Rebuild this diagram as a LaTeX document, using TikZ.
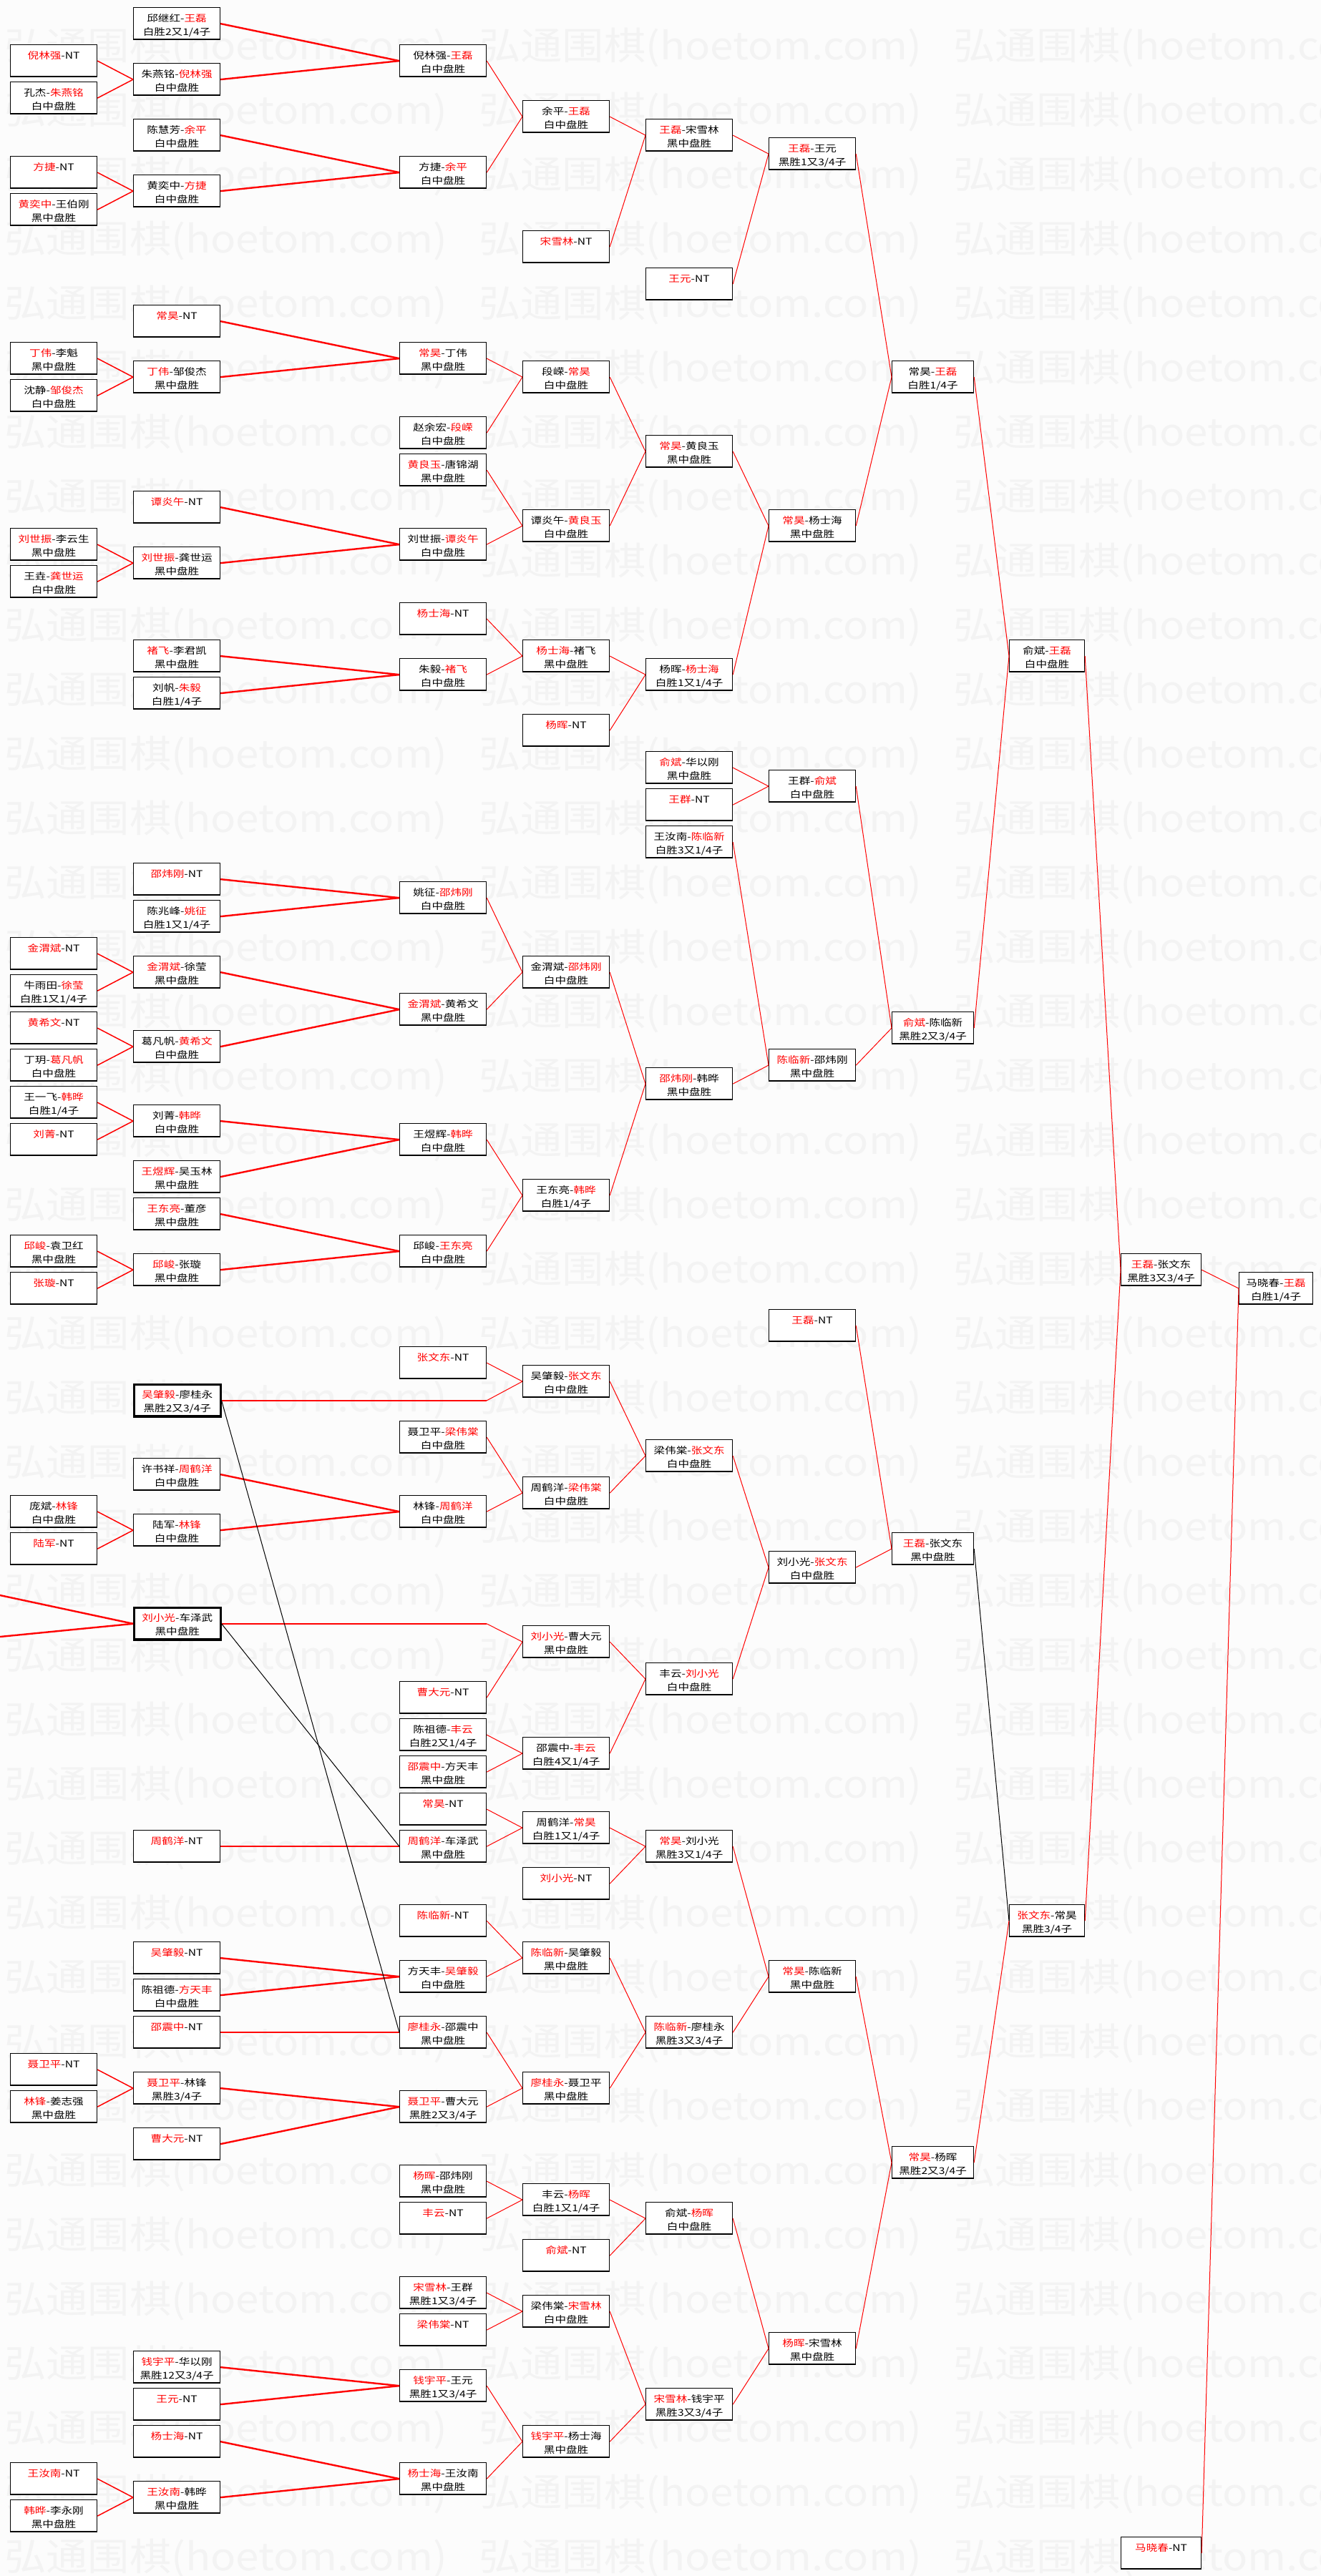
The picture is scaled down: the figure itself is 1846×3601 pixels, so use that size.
\documentclass[tikz,border=0pt]{standalone}
\usepackage{fontspec}
\newfontfamily\cjk[FakeStretch=1.2]{Noto Sans CJK SC}
\newfontfamily\stampfont[FakeStretch=1.1]{Noto Sans CJK SC}
\definecolor{paper}{RGB}{252,252,252}
\definecolor{stampgray}{RGB}{243,243,243}
\newcommand\winner[1]{\textcolor{red}{#1}}
\newcommand\res[3][121pt]{\parbox[b][45pt][t]{#1}{\centering\rule{0pt}{19.5pt}#2\par #3}}

\tikzset{
  game/.style={draw, line width=1.2pt, fill=white, inner sep=0pt, anchor=north west,
    font=\cjk\fontsize{13pt}{19pt}\selectfont,
    path picture={\draw[line width=4pt] (path picture bounding box.south west) -- (path picture bounding box.south east);}},
  boldgame/.style={game, line width=2.6pt},
  stamp/.style={anchor=west, inner sep=0pt, text=stampgray, font=\stampfont\fontsize{53pt}{53pt}\selectfont},
  feedline/.style={red, line width=1.5pt},
  mainline/.style={red, line width=2.4pt},
  roundline/.style={red, line width=1pt},
  crossline/.style={black, line width=1pt}
}

\begin{document}
\begin{tikzpicture}[x=1pt,y=-1pt]
\useasboundingbox (0,0) rectangle (1846,3601);
\clip (0,0) rectangle (1846,3601);
\fill[paper] (0,0) rectangle (1846,3601);

% watermark
\foreach \r in {0,...,39}
  \foreach \c in {0,1,2}
    \node[stamp] (wm-\r-\c) at (6+663*\c, 66+90*\r) {弘通围棋(hoetom.com)};

% column A
\node[game] (a2) at (14,62) {\res{\winner{倪林强}-NT}{}};
\node[game] (a4) at (14,114) {\res{孔杰-\winner{朱燕铭}}{白中盘胜}};
\node[game] (a8) at (14,218) {\res{\winner{方捷}-NT}{}};
\node[game] (a10) at (14,270) {\res{\winner{黄奕中}-王伯刚}{黑中盘胜}};
\node[game] (a18) at (14,478) {\res{\winner{丁伟}-李魁}{黑中盘胜}};
\node[game] (a20) at (14,530) {\res{沈静-\winner{邹俊杰}}{白中盘胜}};
\node[game] (a28) at (14,738) {\res{\winner{刘世振}-李云生}{黑中盘胜}};
\node[game] (a30) at (14,790) {\res{王垚-\winner{龚世运}}{白中盘胜}};
\node[game] (a50) at (14,1310) {\res{\winner{金渭斌}-NT}{}};
\node[game] (a52) at (14,1362) {\res{牛雨田-\winner{徐莹}}{白胜1又1/4子}};
\node[game] (a54) at (14,1414) {\res{\winner{黄希文}-NT}{}};
\node[game] (a56) at (14,1466) {\res{丁玥-\winner{葛凡帆}}{白中盘胜}};
\node[game] (a58) at (14,1518) {\res{王一飞-\winner{韩晔}}{白胜1/4子}};
\node[game] (a60) at (14,1570) {\res{\winner{刘菁}-NT}{}};
\node[game] (a66) at (14,1726) {\res{\winner{邱峻}-袁卫红}{黑中盘胜}};
\node[game] (a68) at (14,1778) {\res{\winner{张璇}-NT}{}};
\node[game] (a80) at (14,2090) {\res{庞斌-\winner{林锋}}{白中盘胜}};
\node[game] (a82) at (14,2142) {\res{\winner{陆军}-NT}{}};
\node[game] (a110) at (14,2870) {\res{\winner{聂卫平}-NT}{}};
\node[game] (a112) at (14,2922) {\res{\winner{林锋}-姜志强}{黑中盘胜}};
\node[game] (a132) at (14,3442) {\res{\winner{王汝南}-NT}{}};
\node[game] (a134) at (14,3494) {\res{\winner{韩晔}-李永刚}{黑中盘胜}};

% column B
\node[game] (b0) at (186,10) {\res{邱继红-\winner{王磊}}{白胜2又1/4子}};
\node[game] (b3) at (186,88) {\res{朱燕铭-\winner{倪林强}}{白中盘胜}};
\node[game] (b6) at (186,166) {\res{陈慧芳-\winner{余平}}{白中盘胜}};
\node[game] (b9) at (186,244) {\res{黄奕中-\winner{方捷}}{白中盘胜}};
\node[game] (b16) at (186,426) {\res{\winner{常昊}-NT}{}};
\node[game] (b19) at (186,504) {\res{\winner{丁伟}-邹俊杰}{黑中盘胜}};
\node[game] (b26) at (186,686) {\res{\winner{谭炎午}-NT}{}};
\node[game] (b29) at (186,764) {\res{\winner{刘世振}-龚世运}{黑中盘胜}};
\node[game] (b34) at (186,894) {\res{\winner{褚飞}-李君凯}{黑中盘胜}};
\node[game] (b36) at (186,946) {\res{刘帆-\winner{朱毅}}{白胜1/4子}};
\node[game] (b46) at (186,1206) {\res{\winner{邵炜刚}-NT}{}};
\node[game] (b48) at (186,1258) {\res{陈兆峰-\winner{姚征}}{白胜1又1/4子}};
\node[game] (b51) at (186,1336) {\res{\winner{金渭斌}-徐莹}{黑中盘胜}};
\node[game] (b55) at (186,1440) {\res{葛凡帆-\winner{黄希文}}{白中盘胜}};
\node[game] (b59) at (186,1544) {\res{刘菁-\winner{韩晔}}{白中盘胜}};
\node[game] (b62) at (186,1622) {\res{\winner{王煜辉}-吴玉林}{黑中盘胜}};
\node[game] (b64) at (186,1674) {\res{\winner{王东亮}-董彦}{黑中盘胜}};
\node[game] (b67) at (186,1752) {\res{\winner{邱峻}-张璇}{黑中盘胜}};
\node[boldgame] (b74) at (186,1934) {\res{\winner{吴肇毅}-廖桂永}{黑胜2又3/4子}};
\node[game] (b78) at (186,2038) {\res{许书祥-\winner{周鹤洋}}{白中盘胜}};
\node[game] (b81) at (186,2116) {\res{陆军-\winner{林锋}}{白中盘胜}};
\node[boldgame] (b86) at (186,2246) {\res{\winner{刘小光}-车泽武}{黑中盘胜}};
\node[game] (b98) at (186,2558) {\res{\winner{周鹤洋}-NT}{}};
\node[game] (b104) at (186,2714) {\res{\winner{吴肇毅}-NT}{}};
\node[game] (b106) at (186,2766) {\res{陈祖德-\winner{方天丰}}{白中盘胜}};
\node[game] (b108) at (186,2818) {\res{\winner{邵震中}-NT}{}};
\node[game] (b111) at (186,2896) {\res{\winner{聂卫平}-林锋}{黑胜3/4子}};
\node[game] (b114) at (186,2974) {\res{\winner{曹大元}-NT}{}};
\node[game] (b126) at (186,3286) {\res{\winner{钱宇平}-华以刚}{黑胜12又3/4子}};
\node[game] (b128) at (186,3338) {\res{\winner{王元}-NT}{}};
\node[game] (b130) at (186,3390) {\res{\winner{杨士海}-NT}{}};
\node[game] (b133) at (186,3468) {\res{\winner{王汝南}-韩晔}{黑中盘胜}};

% column C
\node[game] (c2) at (558,62) {\res{倪林强-\winner{王磊}}{白中盘胜}};
\node[game] (c8) at (558,218) {\res{方捷-\winner{余平}}{白中盘胜}};
\node[game] (c18) at (558,478) {\res{\winner{常昊}-丁伟}{黑中盘胜}};
\node[game] (c22) at (558,582) {\res{赵余宏-\winner{段嵘}}{白中盘胜}};
\node[game] (c24) at (558,634) {\res{\winner{黄良玉}-唐锦湖}{黑中盘胜}};
\node[game] (c28) at (558,738) {\res{刘世振-\winner{谭炎午}}{白中盘胜}};
\node[game] (c32) at (558,842) {\res{\winner{杨士海}-NT}{}};
\node[game] (c35) at (558,920) {\res{朱毅-\winner{褚飞}}{白中盘胜}};
\node[game] (c47) at (558,1232) {\res{姚征-\winner{邵炜刚}}{白中盘胜}};
\node[game] (c53) at (558,1388) {\res{\winner{金渭斌}-黄希文}{黑中盘胜}};
\node[game] (c60) at (558,1570) {\res{王煜辉-\winner{韩晔}}{白中盘胜}};
\node[game] (c66) at (558,1726) {\res{邱峻-\winner{王东亮}}{白中盘胜}};
\node[game] (c72) at (558,1882) {\res{\winner{张文东}-NT}{}};
\node[game] (c76) at (558,1986) {\res{聂卫平-\winner{梁伟棠}}{白中盘胜}};
\node[game] (c80) at (558,2090) {\res{林锋-\winner{周鹤洋}}{白中盘胜}};
\node[game] (c90) at (558,2350) {\res{\winner{曹大元}-NT}{}};
\node[game] (c92) at (558,2402) {\res{陈祖德-\winner{丰云}}{白胜2又1/4子}};
\node[game] (c94) at (558,2454) {\res{\winner{邵震中}-方天丰}{黑中盘胜}};
\node[game] (c96) at (558,2506) {\res{\winner{常昊}-NT}{}};
\node[game] (c98) at (558,2558) {\res{\winner{周鹤洋}-车泽武}{黑中盘胜}};
\node[game] (c102) at (558,2662) {\res{\winner{陈临新}-NT}{}};
\node[game] (c105) at (558,2740) {\res{方天丰-\winner{吴肇毅}}{白中盘胜}};
\node[game] (c108) at (558,2818) {\res{\winner{廖桂永}-邵震中}{黑中盘胜}};
\node[game] (c112) at (558,2922) {\res{\winner{聂卫平}-曹大元}{黑胜2又3/4子}};
\node[game] (c116) at (558,3026) {\res{\winner{杨晖}-邵炜刚}{黑中盘胜}};
\node[game] (c118) at (558,3078) {\res{\winner{丰云}-NT}{}};
\node[game] (c122) at (558,3182) {\res{\winner{宋雪林}-王群}{黑胜1又3/4子}};
\node[game] (c124) at (558,3234) {\res{\winner{梁伟棠}-NT}{}};
\node[game] (c127) at (558,3312) {\res{\winner{钱宇平}-王元}{黑胜1又3/4子}};
\node[game] (c132) at (558,3442) {\res{\winner{杨士海}-王汝南}{黑中盘胜}};

% column D
\node[game] (d5) at (730,140) {\res{余平-\winner{王磊}}{白中盘胜}};
\node[game] (d12) at (730,322) {\res{\winner{宋雪林}-NT}{}};
\node[game] (d19) at (730,504) {\res{段嵘-\winner{常昊}}{白中盘胜}};
\node[game] (d27) at (730,712) {\res{谭炎午-\winner{黄良玉}}{白中盘胜}};
\node[game] (d34) at (730,894) {\res{\winner{杨士海}-褚飞}{黑中盘胜}};
\node[game] (d38) at (730,998) {\res{\winner{杨晖}-NT}{}};
\node[game] (d51) at (730,1336) {\res{金渭斌-\winner{邵炜刚}}{白中盘胜}};
\node[game] (d63) at (730,1648) {\res{王东亮-\winner{韩晔}}{白胜1/4子}};
\node[game] (d73) at (730,1908) {\res{吴肇毅-\winner{张文东}}{白中盘胜}};
\node[game] (d79) at (730,2064) {\res{周鹤洋-\winner{梁伟棠}}{白中盘胜}};
\node[game] (d87) at (730,2272) {\res{\winner{刘小光}-曹大元}{黑中盘胜}};
\node[game] (d93) at (730,2428) {\res{邵震中-\winner{丰云}}{白胜4又1/4子}};
\node[game] (d97) at (730,2532) {\res{周鹤洋-\winner{常昊}}{白胜1又1/4子}};
\node[game] (d100) at (730,2610) {\res{\winner{刘小光}-NT}{}};
\node[game] (d104) at (730,2714) {\res{\winner{陈临新}-吴肇毅}{黑中盘胜}};
\node[game] (d111) at (730,2896) {\res{\winner{廖桂永}-聂卫平}{黑中盘胜}};
\node[game] (d117) at (730,3052) {\res{丰云-\winner{杨晖}}{白胜1又1/4子}};
\node[game] (d120) at (730,3130) {\res{\winner{俞斌}-NT}{}};
\node[game] (d123) at (730,3208) {\res{梁伟棠-\winner{宋雪林}}{白中盘胜}};
\node[game] (d130) at (730,3390) {\res{\winner{钱宇平}-杨士海}{黑中盘胜}};

% column E
\node[game] (e6) at (902,166) {\res{\winner{王磊}-宋雪林}{黑中盘胜}};
\node[game] (e14) at (902,374) {\res{\winner{王元}-NT}{}};
\node[game] (e23) at (902,608) {\res{\winner{常昊}-黄良玉}{黑中盘胜}};
\node[game] (e35) at (902,920) {\res{杨晖-\winner{杨士海}}{白胜1又1/4子}};
\node[game] (e40) at (902,1050) {\res{\winner{俞斌}-华以刚}{黑中盘胜}};
\node[game] (e42) at (902,1102) {\res{\winner{王群}-NT}{}};
\node[game] (e44) at (902,1154) {\res{王汝南-\winner{陈临新}}{白胜3又1/4子}};
\node[game] (e57) at (902,1492) {\res{\winner{邵炜刚}-韩晔}{黑中盘胜}};
\node[game] (e77) at (902,2012) {\res{梁伟棠-\winner{张文东}}{白中盘胜}};
\node[game] (e89) at (902,2324) {\res{丰云-\winner{刘小光}}{白中盘胜}};
\node[game] (e98) at (902,2558) {\res{\winner{常昊}-刘小光}{黑胜3又1/4子}};
\node[game] (e108) at (902,2818) {\res{\winner{陈临新}-廖桂永}{黑胜3又3/4子}};
\node[game] (e118) at (902,3078) {\res{俞斌-\winner{杨晖}}{白中盘胜}};
\node[game] (e128) at (902,3338) {\res{\winner{宋雪林}-钱宇平}{黑胜3又3/4子}};

% column F
\node[game] (f7) at (1074,192) {\res{\winner{王磊}-王元}{黑胜1又3/4子}};
\node[game] (f27) at (1074,712) {\res{\winner{常昊}-杨士海}{黑中盘胜}};
\node[game] (f41) at (1074,1076) {\res{王群-\winner{俞斌}}{白中盘胜}};
\node[game] (f56) at (1074,1466) {\res{\winner{陈临新}-邵炜刚}{黑中盘胜}};
\node[game] (f70) at (1074,1830) {\res{\winner{王磊}-NT}{}};
\node[game] (f83) at (1074,2168) {\res{刘小光-\winner{张文东}}{白中盘胜}};
\node[game] (f105) at (1074,2740) {\res{\winner{常昊}-陈临新}{黑中盘胜}};
\node[game] (f125) at (1074,3260) {\res{\winner{杨晖}-宋雪林}{黑中盘胜}};

% columns G to J
\node[game] (g19) at (1246,504) {\res[114pt]{常昊-\winner{王磊}}{白胜1/4子}};
\node[game] (g54) at (1246,1414) {\res[114pt]{\winner{俞斌}-陈临新}{黑胜2又3/4子}};
\node[game] (g82) at (1246,2142) {\res[114pt]{\winner{王磊}-张文东}{黑中盘胜}};
\node[game] (g115) at (1246,3000) {\res[114pt]{\winner{常昊}-杨晖}{黑胜2又3/4子}};
\node[game] (h34) at (1410,894) {\res[105pt]{俞斌-\winner{王磊}}{白中盘胜}};
\node[game] (h102) at (1410,2662) {\res[105pt]{\winner{张文东}-常昊}{黑胜3/4子}};
\node[game] (i67) at (1566,1752) {\res[112pt]{\winner{王磊}-张文东}{黑胜3又3/4子}};
\node[game] (i136) at (1566,3546) {\res[112pt]{\winner{马晓春}-NT}{}};
\node[game] (j68) at (1731,1778) {\res[103pt]{马晓春-\winner{王磊}}{白胜1/4子}};

% first round
\foreach \s/\t in {a2/b3, a4/b3, a8/b9, a10/b9, a18/b19, a20/b19, a28/b29, a30/b29,
  a50/b51, a52/b51, a54/b55, a56/b55, a58/b59, a60/b59, a66/b67, a68/b67,
  a80/b81, a82/b81, a110/b111, a112/b111, a132/b133, a134/b133}
  \draw[feedline] (\s.east) -- (\t.west);

% second round
\foreach \s/\t in {b0/c2, b3/c2, b6/c8, b9/c8, b16/c18, b19/c18, b26/c28, b29/c28,
  b34/c35, b36/c35, b46/c47, b48/c47, b51/c53, b55/c53, b59/c60, b62/c60, b64/c66, b67/c66,
  b78/c80, b81/c80, b98/c98, b104/c105, b106/c105, b108/c108, b111/c112, b114/c112,
  b126/c127, b128/c127, b130/c132, b133/c132}
  \draw[mainline] (\s.east) -- (\t.west);

\coordinate (off1) at (0,2230);
\coordinate (off2) at (0,2288);
\draw[mainline] (off1) -- (b86.west);
\draw[mainline] (off2) -- (b86.west);
\draw[mainline] (b74.east) -- (b74.east -| c72.east) coordinate (via74);
\draw[roundline] (via74) -- (d73.west);
\draw[mainline] (b86.east) -- (b86.east -| c90.east) coordinate (via86);
\draw[roundline] (via86) -- (d87.west);

% later rounds
\foreach \s/\t in {c2/d5, c8/d5, c18/d19, c22/d19, c24/d27, c28/d27, c32/d34, c35/d34,
  c47/d51, c53/d51, c60/d63, c66/d63, c72/d73, c76/d79, c80/d79, c90/d87,
  c92/d93, c94/d93, c96/d97, c98/d97, c102/d104, c105/d104, c108/d111, c112/d111,
  c116/d117, c118/d117, c122/d123, c124/d123, c127/d130, c132/d130,
  d5/e6, d12/e6, d19/e23, d27/e23, d34/e35, d38/e35, d51/e57, d63/e57,
  d73/e77, d79/e77, d87/e89, d93/e89, d97/e98, d100/e98, d104/e108, d111/e108,
  d117/e118, d120/e118, d123/e128, d130/e128,
  e6/f7, e14/f7, e23/f27, e35/f27, e40/f41, e42/f41, e44/f56, e57/f56,
  e77/f83, e89/f83, e98/f105, e108/f105, e118/f125, e128/f125,
  f7/g19, f27/g19, f41/g54, f56/g54, f70/g82, f83/g82, f105/g115, f125/g115,
  g19/h34, g54/h34, g115/h102, h34/i67, h102/i67, i67/j68, i136/j68}
  \draw[roundline] (\s.east) -- (\t.west);

% black connectors
\foreach \s/\t in {b74/c108, b86/c98, g82/h102}
  \draw[crossline] (\s.east) -- (\t.west);
\end{tikzpicture}
\end{document}
